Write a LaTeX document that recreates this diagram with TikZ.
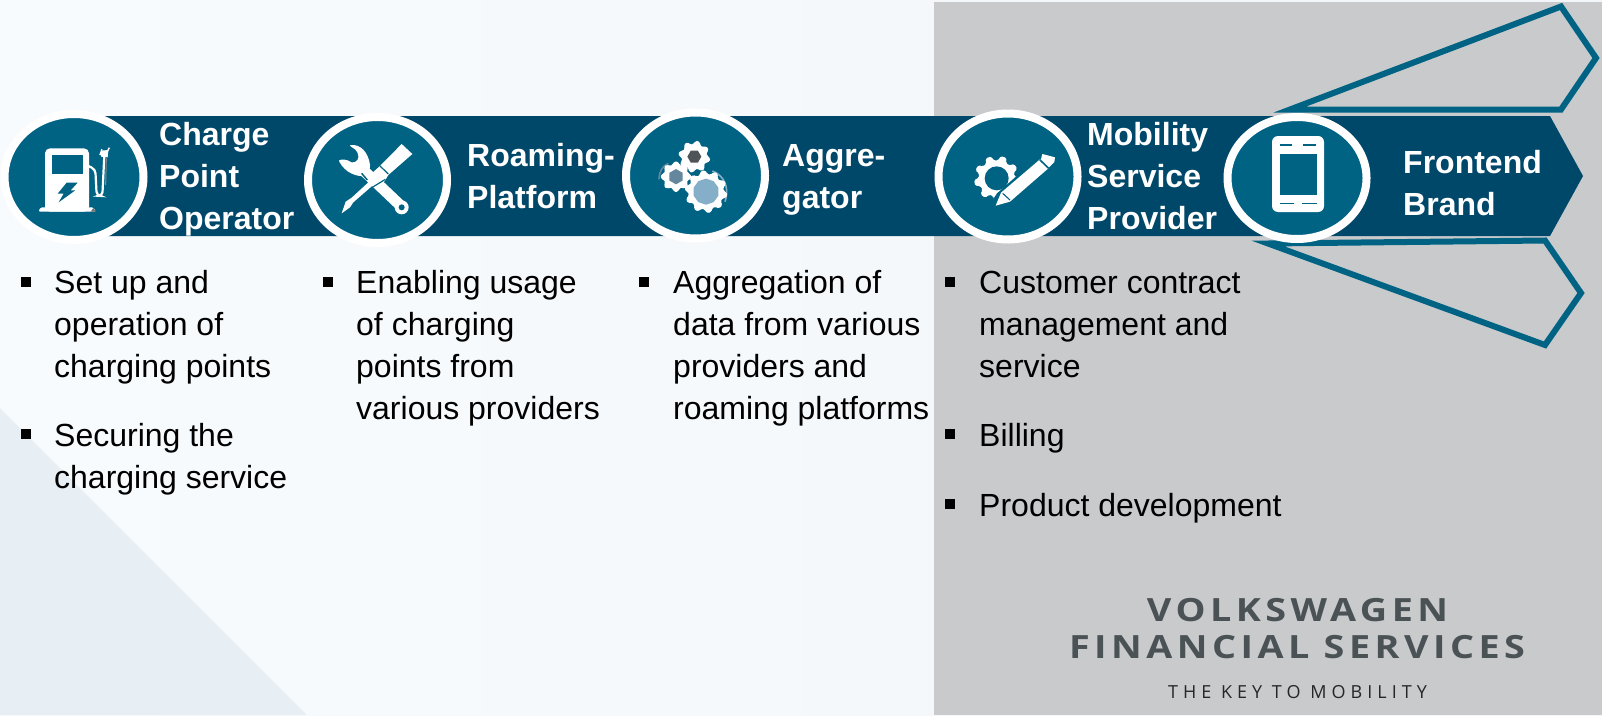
\documentclass[tikz,border=0pt]{standalone}
\usepackage{fontspec}
\setmainfont{Liberation Sans}
\newfontfamily\logofont[LetterSpace=14,FakeStretch=1.18]{Open Sans Bold}
\newfontfamily\tagfont[LetterSpace=28]{Open Sans}
\definecolor{bandc}{HTML}{00486A}
\definecolor{circc}{HTML}{006384}
\definecolor{panelc}{HTML}{C9CACC}
\definecolor{tric}{HTML}{E7EEF4}
\definecolor{logoc}{HTML}{4A5256}
\definecolor{bgl}{HTML}{F8FBFD}
\definecolor{bgr}{HTML}{F3F6F9}
\definecolor{hexa}{HTML}{4F5459}
\definecolor{hexb}{HTML}{64879E}
\definecolor{hexc}{HTML}{85AFC8}
\newcommand{\firstln}{\rule{0pt}{23pt}}
\newcommand{\gearshape}[6]{%
  \pgfmathsetmacro\gst{360/#5}%
  \fill[white,rounded corners=1.5pt] ([shift={(#1,#2)}]{#6-0.33*\gst}:#4)
    \foreach \i [evaluate=\i as \a using #6+\i*\gst] in {0,...,\numexpr#5-1\relax}{
      -- ([shift={(#1,#2)}]{\a-0.33*\gst}:#4)
      -- ([shift={(#1,#2)}]{\a-0.19*\gst}:#3)
      -- ([shift={(#1,#2)}]{\a+0.19*\gst}:#3)
      -- ([shift={(#1,#2)}]{\a+0.33*\gst}:#4)
    } -- cycle;}
\newcommand{\polyshape}[6]{%
  \pgfmathsetmacro\gst{360/#4}%
  \fill[#6] ([shift={(#1,#2)}]{#5}:#3)
    \foreach \i [evaluate=\i as \a using #5+\i*\gst] in {1,...,#4}{
      -- ([shift={(#1,#2)}]{\a}:#3)
    } -- cycle;}
\usetikzlibrary{shapes.geometric}
\tikzset{
  disc/.style={ellipse,draw=white,fill=circc,line width=8pt,inner sep=0pt,minimum width=139pt,minimum height=126pt},
  steplabel/.style={anchor=north west,inner sep=0pt,text=white,align=left,font=\fontsize{32}{42}\selectfont\bfseries},
  bodytext/.style={anchor=north west,inner sep=0pt,text=black,align=left,font=\fontsize{32}{42}\selectfont},
  bulletmark/.style={rectangle,fill=black,inner sep=0pt,minimum size=10pt},
  outlinearrow/.style={draw=circc,line width=6pt,miter limit=20,line join=miter},
  logotext/.style={inner sep=0pt,anchor=base,text=logoc},
  icon/.style={shift={#1},scale=1/3},
}
\begin{document}
\begin{tikzpicture}[x=1pt,y=-1pt]
\useasboundingbox (0,0) rectangle (1602,715);
% background
\shade[left color=bgl,right color=bgr] (0,0) rectangle (1602,715);
\fill[tric] (0,408) -- (307,715) -- (0,715) -- cycle;
\fill[panelc] (934,2) rectangle (1602,715);
% outline arrows
\draw[outlinearrow] (1290,109.5) -- (1561,6.5) -- (1596,58) -- (1561,109.5) -- cycle;
\draw[outlinearrow] (1268,243.5) -- (1545,240.5) -- (1581,293) -- (1545,345) -- cycle;
% band
\fill[bandc] (90,116) -- (1550,116) -- (1583,176) -- (1550,236) -- (90,236) -- cycle;
% discs
\node[disc] (d1) at (74,177) {};
\node[disc] (d2) at (377.5,180) {};
\node[disc] (d3) at (695.5,175.5) {};
\node[disc] (d4) at (1008,176.5) {};
\node[disc,minimum height=122pt] (d5) at (1297,178) {};
% labels
\node[steplabel] (l1) at (159,122) {\firstln Charge\\Point\\Operator};
\node[steplabel] (l2) at (467,143) {\firstln Roaming-\\Platform};
\node[steplabel] (l3) at (782,143) {\firstln Aggre-\\gator};
\node[steplabel] (l4) at (1087,122) {\firstln Mobility\\Service\\Provider};
\node[steplabel] (l5) at (1403,150) {\firstln Frontend\\Brand};
% body text
\node[bulletmark] (b1) at (25.5,282) {};
\node[bodytext] (t1) at (54,270) {\firstln Set up and\\operation of\\charging points};
\node[bulletmark] (b2) at (25.5,434) {};
\node[bodytext] (t2) at (54,423) {\firstln Securing the\\charging service};
\node[bulletmark] (b3) at (328,282) {};
\node[bodytext] (t3) at (356,270) {\firstln Enabling usage\\of charging\\points from\\various providers};
\node[bulletmark] (b4) at (644,282) {};
\node[bodytext] (t4) at (673,270) {\firstln Aggregation of\\data from various\\providers and\\roaming platforms};
\node[bulletmark] (b5) at (950,282) {};
\node[bodytext] (t5) at (979,270) {\firstln Customer contract\\management and\\service};
\node[bulletmark] (b6) at (950,434) {};
\node[bodytext] (t6) at (979,423) {\firstln Billing};
\node[bulletmark] (b7) at (950,504) {};
\node[bodytext] (t7) at (979,493) {\firstln Product development};
% logo
\node[logotext,font=\fontsize{32}{32}\logofont] (v1) at (1297.5,621) {VOLKSWAGEN};
\node[logotext,font=\fontsize{32}{32}\logofont] (v2) at (1297,658) {FINANCIAL SERVICES};
\node[logotext,font=\fontsize{18}{18}\tagfont,text=black!85] (v3) at (1297.5,698) {THE KEY TO MOBILITY};
% icon 1: charge pump
\begin{scope}[icon={(20,130)}]
  \fill[white,rounded corners=5pt] (75,245) -- (75,55) -- (207,55) -- (207,245) -- cycle;
  \fill[white,rounded corners=1.5pt] (55,245) -- (62,232) -- (220,232) -- (228,245) -- cycle;
  \fill[black!55] (212,245) -- (220,234) -- (228,245) -- cycle;
  \fill[circc] (95,75) rectangle (190,132);
  \fill[circc] (140,158) -- (173,158) -- (152,181) -- (166,181) -- (116,217) -- (131,191) -- (113,191) -- cycle;
  \draw[black!45,line width=1pt] (259,85) -- (257,165);
  \draw[white,line width=2.2pt,rounded corners=4pt] (205,108) -- (226,118) -- (230,197) -- (247,198) -- (253,75);
  \fill[white] (243,62) -- (265,60) -- (263,82) -- (243,80) -- cycle;
  \draw[white,line width=1.5pt] (240,75) -- (246,58) (259,70) -- (268,53);
\end{scope}
% icon 2: tools
\begin{scope}[icon={(325,130)}]
  \draw[white,line width=11pt] (112,118) -- (228,228);
  \fill[white] (230,232) circle (21);
  \fill[circc] (230,232) circle (9);
  \fill[white,rounded corners=2pt] (72,46) .. controls (105,42) and (130,65) .. (136,112) -- (126,138) .. controls (95,140) and (62,130) .. (40,90) -- (62,88) -- (85,100) -- (102,86) -- (96,62) -- cycle;
  \draw[circc,line width=1.5pt] (110,130) -- (127,150);
  \fill[white] (165,108) -- (230,42) -- (262,72) -- (190,135) -- (178,155) -- (148,162) -- (85,217) -- (75,232) -- (50,250) -- (62,215) -- (80,203) -- (140,148) -- (138,132) -- cycle;
  \draw[circc,line width=1.2pt] (165,108) -- (190,132) (142,172) -- (181,148);
\end{scope}
% icon 3: gears
\begin{scope}[icon={(650,130)}]
  \draw[hexb,line width=1.6pt] (27,148) .. controls (27,125) and (38,107) .. (55,100);
  \draw[hexc,line width=1.6pt] (187,123) .. controls (220,135) and (240,170) .. (225,215);
  \gearshape{133}{80}{48}{38}{8}{12}
  \gearshape{78}{140}{46}{37}{8}{0}
  \gearshape{168}{185}{64}{53}{10}{10}
  \polyshape{133}{80}{21}{6}{0}{hexa}
  \polyshape{78}{140}{23}{6}{30}{hexb}
  \polyshape{168}{185}{39}{10}{18}{hexc}
\end{scope}
% icon 4: gear and pencil
\begin{scope}[icon={(965,140)}]
  \gearshape{95}{115}{68}{54}{9}{8}
  \fill[circc] (95,115) circle (36);
  \fill[circc] (96,160) -- (215,55) -- (275,40) -- (275,215) -- (60,215) -- cycle;
  \fill[white] (108,158) -- (225,58) -- (250,85) -- (135,185) -- (92,197) -- cycle;
  \fill[white] (232,42) -- (270,52) -- (268,66) -- (252,82) -- (228,58) -- cycle;
  \draw[circc,line width=1.1pt] (113,160) -- (135,180) (224,60) -- (250,85);
\end{scope}
% icon 5: phone
\begin{scope}[icon={(1200,0)}]
  \fill[white,rounded corners=6pt] (216,408) rectangle (372,636);
  \fill[circc] (240,462) rectangle (350,585);
  \draw[circc,line width=1.2pt] (240,435) -- (275,435) (310,435) -- (348,435)
    (240,610) -- (282,610) (307,610) -- (350,610);
\end{scope}
\end{tikzpicture}
\end{document}
